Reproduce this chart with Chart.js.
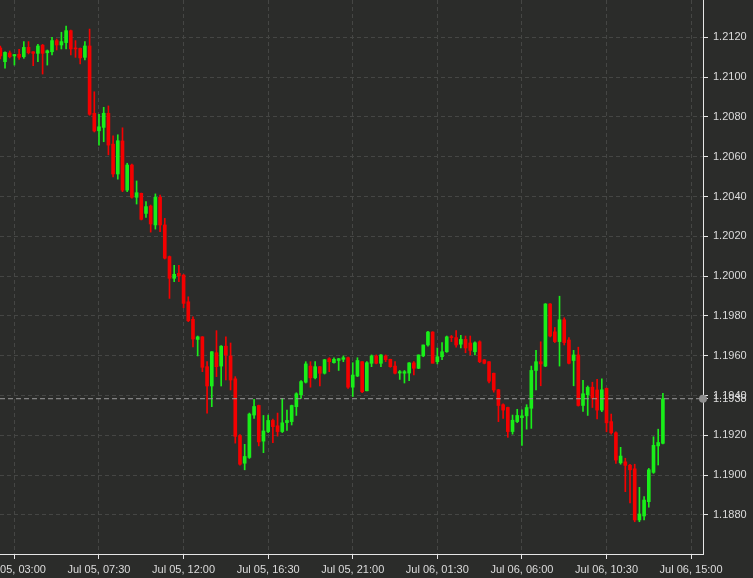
<!DOCTYPE html>
<html lang="en">
<head>
    <meta charset="UTF-8">
    <title>EUR/USD 15m</title>
    <script src="https://cdn.jsdelivr.net/npm/chart.js"></script>
    <style>
        html, body {
            margin: 0;
            padding: 0;
            background-color: #2b2c2a;
        }
        .wrap {
            width: 753px;
            height: 578px;
            background-color: #2b2c2a;
        }
    </style>
</head>
<body>
<div class="wrap">
    <canvas id="grafico"></canvas>
</div>

<script>
    // 15 minute candles, time in minutes since Jul 05 00:00
    const candleStart = 135;   // Jul 05, 02:15
    const candleMinutes = 15;

    const opens = [
        1.21146, 1.21077, 1.21121, 1.21106, 1.21114, 1.21102, 1.21149, 1.21127, 1.21119, 1.21160,
        1.21122, 1.21127, 1.21183, 1.21161, 1.21173, 1.21233, 1.21146, 1.21144, 1.21099, 1.21156,
        1.20818, 1.20730, 1.20747, 1.20818, 1.20663, 1.20513, 1.20679, 1.20432, 1.20558, 1.20396,
        1.20416, 1.20315, 1.20352, 1.20257, 1.20396, 1.20257, 1.20098, 1.19989, 1.20014, 1.20005,
        1.19871, 1.19783, 1.19682, 1.19695, 1.19545, 1.19448, 1.19615, 1.19548, 1.19648, 1.19599,
        1.19484, 1.19198, 1.19060, 1.19089, 1.19302, 1.19350, 1.19171, 1.19219, 1.19275, 1.19248,
        1.19219, 1.19264, 1.19269, 1.19344, 1.19404, 1.19467, 1.19548, 1.19489, 1.19545, 1.19512,
        1.19585, 1.19565, 1.19576, 1.19582, 1.19590, 1.19442, 1.19498, 1.19570, 1.19424, 1.19562,
        1.19599, 1.19562, 1.19599, 1.19582, 1.19548, 1.19513, 1.19512, 1.19513, 1.19564, 1.19537,
        1.19599, 1.19654, 1.19719, 1.19570, 1.19595, 1.19620, 1.19695, 1.19691, 1.19658, 1.19682,
        1.19664, 1.19620, 1.19670, 1.19579, 1.19570, 1.19512, 1.19429, 1.19354, 1.19340, 1.19219,
        1.19269, 1.19289, 1.19298, 1.19336, 1.19526, 1.19570, 1.19548, 1.19860, 1.19720, 1.19671,
        1.19781, 1.19679, 1.19576, 1.19604, 1.19350, 1.19404, 1.19442, 1.19428, 1.19327, 1.19436,
        1.19269, 1.19213, 1.19062, 1.19067, 1.19050, 1.19032, 1.18775, 1.18795, 1.18867, 1.19014,
        1.19147, 1.19160
    ];
    const highs = [
        1.21156, 1.21127, 1.21131, 1.21114, 1.21139, 1.21178, 1.21178, 1.21128, 1.21164, 1.21164,
        1.21136, 1.21200, 1.21191, 1.21225, 1.21256, 1.21236, 1.21183, 1.21146, 1.21178, 1.21241,
        1.20926, 1.20813, 1.20848, 1.20855, 1.20705, 1.20710, 1.20745, 1.20567, 1.20563, 1.20478,
        1.20417, 1.20374, 1.20357, 1.20413, 1.20407, 1.20290, 1.20101, 1.20054, 1.20054, 1.20008,
        1.19896, 1.19796, 1.19699, 1.19696, 1.19570, 1.19621, 1.19726, 1.19651, 1.19695, 1.19664,
        1.19495, 1.19204, 1.19155, 1.19312, 1.19381, 1.19352, 1.19300, 1.19302, 1.19282, 1.19312,
        1.19386, 1.19327, 1.19352, 1.19414, 1.19475, 1.19570, 1.19570, 1.19570, 1.19546, 1.19582,
        1.19590, 1.19590, 1.19587, 1.19599, 1.19593, 1.19565, 1.19590, 1.19571, 1.19570, 1.19604,
        1.19604, 1.19606, 1.19604, 1.19583, 1.19570, 1.19526, 1.19526, 1.19565, 1.19570, 1.19604,
        1.19654, 1.19722, 1.19721, 1.19639, 1.19666, 1.19699, 1.19702, 1.19726, 1.19702, 1.19699,
        1.19699, 1.19670, 1.19675, 1.19581, 1.19571, 1.19513, 1.19431, 1.19358, 1.19342, 1.19302,
        1.19331, 1.19328, 1.19354, 1.19548, 1.19627, 1.19670, 1.19862, 1.19862, 1.19742, 1.19899,
        1.19791, 1.19691, 1.19627, 1.19643, 1.19476, 1.19448, 1.19467, 1.19481, 1.19484, 1.19438,
        1.19307, 1.19218, 1.19140, 1.19085, 1.19055, 1.19055, 1.18939, 1.18892, 1.19034, 1.19193,
        1.19231, 1.19411
    ];
    const lows = [
        1.21091, 1.21044, 1.21096, 1.21060, 1.21089, 1.21094, 1.21116, 1.21057, 1.21077, 1.21015,
        1.21060, 1.21111, 1.21136, 1.21141, 1.21141, 1.21111, 1.21099, 1.21066, 1.21086, 1.20808,
        1.20724, 1.20658, 1.20675, 1.20609, 1.20498, 1.20487, 1.20424, 1.20424, 1.20391, 1.20362,
        1.20282, 1.20295, 1.20221, 1.20236, 1.20223, 1.20086, 1.19888, 1.19972, 1.19972, 1.19841,
        1.19771, 1.19644, 1.19599, 1.19520, 1.19312, 1.19344, 1.19495, 1.19448, 1.19478, 1.19428,
        1.19161, 1.19050, 1.19027, 1.19084, 1.19285, 1.19147, 1.19113, 1.19214, 1.19163, 1.19196,
        1.19214, 1.19225, 1.19252, 1.19300, 1.19386, 1.19463, 1.19442, 1.19484, 1.19448, 1.19508,
        1.19520, 1.19563, 1.19526, 1.19570, 1.19436, 1.19395, 1.19495, 1.19414, 1.19423, 1.19545,
        1.19559, 1.19545, 1.19570, 1.19542, 1.19508, 1.19481, 1.19463, 1.19475, 1.19503, 1.19535,
        1.19595, 1.19648, 1.19564, 1.19559, 1.19580, 1.19617, 1.19671, 1.19643, 1.19639, 1.19615,
        1.19604, 1.19604, 1.19565, 1.19559, 1.19464, 1.19417, 1.19269, 1.19285, 1.19190, 1.19206,
        1.19264, 1.19150, 1.19231, 1.19235, 1.19428, 1.19449, 1.19545, 1.19695, 1.19666, 1.19548,
        1.19654, 1.19559, 1.19449, 1.19347, 1.19320, 1.19300, 1.19340, 1.19282, 1.19319, 1.19218,
        1.19206, 1.19059, 1.19055, 1.18917, 1.18861, 1.18766, 1.18766, 1.18775, 1.18839, 1.19009,
        1.19051, 1.19157
    ];
    const closes = [
        1.21106, 1.21124, 1.21102, 1.21113, 1.21099, 1.21149, 1.21122, 1.21119, 1.21156, 1.21119,
        1.21132, 1.21183, 1.21161, 1.21178, 1.21233, 1.21141, 1.21141, 1.21096, 1.21156, 1.20813,
        1.20729, 1.20750, 1.20818, 1.20658, 1.20513, 1.20680, 1.20432, 1.20558, 1.20396, 1.20419,
        1.20285, 1.20349, 1.20262, 1.20396, 1.20257, 1.20090, 1.19989, 1.20009, 1.20001, 1.19863,
        1.19776, 1.19684, 1.19695, 1.19542, 1.19448, 1.19620, 1.19545, 1.19648, 1.19604, 1.19478,
        1.19195, 1.19055, 1.19094, 1.19307, 1.19345, 1.19167, 1.19222, 1.19275, 1.19244, 1.19219,
        1.19263, 1.19275, 1.19350, 1.19409, 1.19470, 1.19559, 1.19489, 1.19545, 1.19512, 1.19580,
        1.19570, 1.19582, 1.19585, 1.19590, 1.19442, 1.19503, 1.19576, 1.19419, 1.19565, 1.19599,
        1.19562, 1.19604, 1.19580, 1.19545, 1.19512, 1.19520, 1.19520, 1.19564, 1.19537, 1.19604,
        1.19654, 1.19719, 1.19562, 1.19595, 1.19620, 1.19695, 1.19691, 1.19654, 1.19682, 1.19639,
        1.19627, 1.19665, 1.19570, 1.19562, 1.19472, 1.19428, 1.19350, 1.19327, 1.19219, 1.19276,
        1.19300, 1.19298, 1.19340, 1.19526, 1.19570, 1.19559, 1.19860, 1.19699, 1.19671, 1.19781,
        1.19666, 1.19562, 1.19604, 1.19350, 1.19409, 1.19441, 1.19386, 1.19327, 1.19429, 1.19263,
        1.19213, 1.19076, 1.19096, 1.19049, 1.19027, 1.18775, 1.18805, 1.18875, 1.19027, 1.19150,
        1.19164, 1.19384
    ];

    const xTickValues = [180, 450, 720, 990, 1260, 1530, 1800, 2070, 2340];
    const xTickLabels = ['Jul 05, 03:00', 'Jul 05, 07:30', 'Jul 05, 12:00', 'Jul 05, 16:30', 'Jul 05, 21:00',
                         'Jul 06, 01:30', 'Jul 06, 06:00', 'Jul 06, 10:30', 'Jul 06, 15:00'];
    const yTickValues = [1.1880, 1.1900, 1.1920, 1.1940, 1.1960, 1.1980, 1.2000,
                         1.2020, 1.2040, 1.2060, 1.2080, 1.2100, 1.2120];

    const xMin = 134, xMax = 2378;
    const yMin = 1.18604, yMax = 1.21387;

    const UP = '#19ee19';
    const DOWN = '#f40000';
    const fuente = "'Liberation Sans', Arial, sans-serif";

    const times = opens.map((o, i) => candleStart + i * candleMinutes);
    const lastPrice = closes[closes.length - 1];
    const candleColor = ctx => closes[ctx.dataIndex] >= opens[ctx.dataIndex] ? UP : DOWN;

    const wicks = times.map((t, i) => ({ x: t, y: [lows[i], highs[i]] }));
    const bodies = times.map((t, i) => ({ x: t, y: [opens[i], closes[i]] }));

    const ctx = document.getElementById('grafico').getContext('2d');
    const chart = new Chart(ctx, {
        type: 'bar',
        data: {
            datasets: [
                {
                    type: 'line',
                    data: [{ x: xMin, y: lastPrice }, { x: xMax, y: lastPrice }],
                    borderColor: '#9c9c9c',
                    borderWidth: 1,
                    borderDash: [5, 3],
                    pointRadius: [0, 4],
                    pointHoverRadius: 0,
                    pointBackgroundColor: '#8e8e8e',
                    pointBorderWidth: 0,
                    clip: false,
                    order: 0
                },
                {
                    data: bodies,
                    backgroundColor: candleColor,
                    grouped: false,
                    barThickness: 3,
                    maxBarThickness: 3,
                    minBarLength: 1,
                    borderWidth: 0,
                    order: 1
                },
                {
                    data: wicks,
                    backgroundColor: candleColor,
                    grouped: false,
                    barThickness: 1,
                    maxBarThickness: 1,
                    borderWidth: 0,
                    order: 2
                }
            ]
        },
        options: {
            responsive: true,
            maintainAspectRatio: false,
            animation: false,
            layout: { padding: 0, autoPadding: false },
            plugins: {
                legend: { display: false },
                tooltip: { enabled: false }
            },
            scales: {
                x: {
                    type: 'linear',
                    min: xMin,
                    max: xMax,
                    offset: false,
                    grid: {
                        color: '#454644',
                        tickColor: '#e6e6e6',
                        tickLength: 5,
                        offset: false
                    },
                    border: { color: '#e6e6e6', width: 1, dash: [4, 3] },
                    ticks: {
                        color: '#dcdcdc',
                        font: { family: fuente, size: 11 },
                        padding: 4,
                        maxRotation: 0,
                        autoSkip: false,
                        callback: v => xTickLabels[xTickValues.indexOf(v)]
                    },
                    afterBuildTicks: s => { s.ticks = xTickValues.map(v => ({ value: v })); },
                    afterFit: s => { s.height = 24; s.paddingLeft = 0; s.paddingRight = 0; }
                },
                y: {
                    position: 'right',
                    min: yMin,
                    max: yMax,
                    grid: {
                        color: c => (c.tick && c.tick.value === lastPrice) ? 'rgba(0,0,0,0)' : '#454644',
                        tickColor: '#e6e6e6',
                        tickLength: 5
                    },
                    border: { color: '#e6e6e6', width: 1, dash: [4, 3] },
                    ticks: {
                        color: '#dcdcdc',
                        font: { family: fuente, size: 11 },
                        padding: 5,
                        autoSkip: false,
                        callback: v => v.toFixed(4)
                    },
                    afterBuildTicks: s => {
                        s.ticks = yTickValues.map(v => ({ value: v })).concat([{ value: lastPrice }]);
                    },
                    afterFit: s => { s.width = 50; s.paddingTop = 0; s.paddingBottom = 0; }
                }
            }
        }
    });
</script>
</body>
</html>
